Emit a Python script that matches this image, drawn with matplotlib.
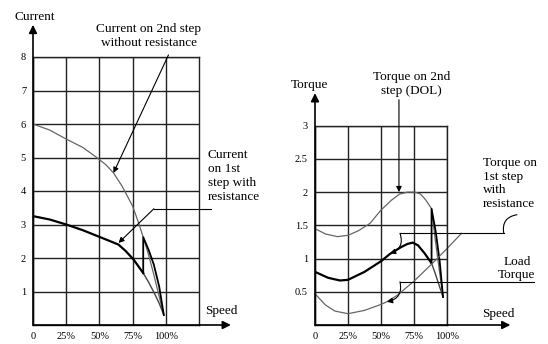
import numpy as np
import matplotlib.pyplot as plt

# ---- left panel: current vs speed ----
ticks_pct = [0, 25, 50, 75, 100]
tick_lbl = ['0', '25%', '50%', '75%', '100%']

cur2_x = [0, 12.5, 25, 37.5, 48, 55, 60.6, 67, 75, 79.5, 83, 87, 91, 95, 98.5]
cur2_y = [6.0, 5.82, 5.55, 5.3, 5.0, 4.78, 4.54, 4.15, 3.55, 3.05, 2.62, 2.1, 1.5, 0.85, 0.3]
cur1_x = [0, 12.5, 25, 37.5, 50.7, 57, 64.4, 70, 75.8, 83]
cur1_y = [3.25, 3.15, 3.0, 2.83, 2.62, 2.52, 2.4, 2.2, 1.95, 1.55]
cur1_tail_x = [83, 87, 91, 95, 98.5]
cur1_tail_y = [1.55, 1.28, 0.98, 0.65, 0.3]
cur_jump_x = [83, 83, 87, 91, 95, 98.5]
cur_jump_y = [1.55, 2.62, 2.25, 1.8, 1.15, 0.3]

# ---- right panel: torque vs speed ----
dol_x = [0, 8, 17, 25, 33, 41.7, 50, 58, 64, 70, 75.8, 80, 84, 88.3, 91, 94, 97]
dol_y = [1.45, 1.37, 1.33, 1.35, 1.42, 1.53, 1.73, 1.88, 1.97, 2.0, 2.0, 1.97, 1.88, 1.75, 1.3, 0.85, 0.42]
tq1_x = [0, 10, 19, 25, 37.5, 50, 56.8, 65, 70, 74, 78, 83, 88.3]
tq1_y = [0.80, 0.71, 0.67, 0.68, 0.8, 0.96, 1.07, 1.17, 1.22, 1.24, 1.2, 1.08, 0.93]
tq1_tail_x = [88.3, 91, 94, 97]
tq1_tail_y = [0.93, 0.78, 0.6, 0.42]
tq_jump_x = [88.3, 88.3, 91.5, 94.5, 97]
tq_jump_y = [0.93, 1.75, 1.4, 0.95, 0.42]
load_x = [0, 8, 15, 25, 37.5, 50, 54.5, 62.5, 75, 87.5, 100, 111]
load_y = [0.47, 0.3, 0.21, 0.17, 0.22, 0.31, 0.35, 0.45, 0.66, 0.9, 1.15, 1.38]

plt.rcParams['font.family'] = ['Liberation Serif', 'DejaVu Serif']
fig = plt.figure(figsize=(5.48, 3.44), dpi=100)

thin = dict(color='#666666', lw=0.9)
thick = dict(color='black', lw=1.6)
arr = dict(arrowstyle='-|>', color='black', lw=0.8, mutation_scale=8, shrinkA=0, shrinkB=0)
axarr = dict(arrowstyle='-|>', color='black', lw=1.2, mutation_scale=12, shrinkA=0, shrinkB=0)

def setup(ax, xmax, ymax, yt, ytl, ytop, xend):
    ax.set_xlim(0, xmax); ax.set_ylim(0, ymax)
    ax.set_xticks(ticks_pct); ax.set_xticklabels(tick_lbl)
    ax.set_yticks(yt); ax.set_yticklabels(ytl)
    ax.tick_params(length=0, pad=5, labelsize=7.5)
    ax.grid(True, color='#222222', lw=1.0)
    for s in ax.spines.values():
        s.set_color('#222222'); s.set_linewidth(1.0)
    ax.annotate('', xy=(0, ytop), xytext=(0, 0), arrowprops=axarr, annotation_clip=False)
    ax.annotate('', xy=(xend, 0), xytext=(0, 0), arrowprops=axarr, annotation_clip=False)

ax1 = fig.add_axes([33/548, 1-325/344, 166/548, 268/344])
setup(ax1, 125, 8, range(1, 9), [str(i) for i in range(1, 9)], 8.96, 149)
ax1.plot(cur2_x, cur2_y, **thin)
ax1.plot(cur1_tail_x, cur1_tail_y, color='#444444', lw=1.0)
ax1.plot(cur1_x, cur1_y, **thick)
ax1.plot(cur_jump_x, cur_jump_y, color='black', lw=1.3)
ax1.text(1.5, 9.2, 'Current', fontsize=9.5, ha='center', va='center')
ax1.text(142, 0.42, 'Speed', fontsize=9.5, ha='center', va='center')
ax1.text(87, 8.63, 'Current on 2nd step\nwithout resistance', fontsize=9.5,
         ha='center', va='center', linespacing=1.15)
ax1.annotate('', xy=(60.6, 4.54), xytext=(102, 8.06), arrowprops=arr, annotation_clip=False)
ax1.text(131.5, 4.45, 'Current\non 1st\nstep with\nresistance', fontsize=9.5,
         ha='left', va='center', linespacing=1.2)
ax1.plot([134, 91], [3.47, 3.47], color='black', lw=0.8, clip_on=False)
ax1.annotate('', xy=(64.4, 2.45), xytext=(91, 3.47), arrowprops=arr, annotation_clip=False)

ax2 = fig.add_axes([315/548, 1-325/344, 132/548, 199.3/344])
setup(ax2, 100, 3, [0.5, 1, 1.5, 2, 2.5, 3], ['0.5', '1', '1.5', '2', '2.5', '3'], 3.49, 148)
ax2.plot(dol_x, dol_y, **thin)
ax2.plot(tq1_tail_x, tq1_tail_y, color='#444444', lw=1.0)
ax2.plot(tq1_x, tq1_y, **thick)
ax2.plot(tq_jump_x, tq_jump_y, color='black', lw=1.3)
ax2.plot(load_x, load_y, clip_on=False, **thin)
ax2.text(-3.8, 3.61, 'Torque', fontsize=9.5, ha='center', va='center')
ax2.text(139, 0.17, 'Speed', fontsize=9.5, ha='center', va='center')
ax2.text(73.2, 3.63, 'Torque on 2nd\nstep (DOL)', fontsize=9.5, ha='center', va='center',
         linespacing=1.15)
ax2.annotate('', xy=(63.6, 2.0), xytext=(63.6, 3.39), arrowprops=arr, annotation_clip=False)
ax2.text(127, 2.13, 'Torque on\n1st step\nwith\nresistance', fontsize=9.5,
         ha='left', va='center', linespacing=1.2)
ax2.annotate('', xy=(143, 1.38), xytext=(153, 1.66),
             arrowprops=dict(arrowstyle='-', color='black', lw=0.8, shrinkA=0, shrinkB=0,
                             connectionstyle='arc3,rad=0.5'), annotation_clip=False)
ax2.plot([143, 64.4], [1.38, 1.38], color='black', lw=0.8, clip_on=False)
ax2.annotate('', xy=(56.8, 1.08), xytext=(64.4, 1.38),
             arrowprops=dict(arr, connectionstyle='arc3,rad=-0.5'), annotation_clip=False)
ax2.text(153, 0.85, 'Load\nTorque', fontsize=9.5, ha='center', va='center', linespacing=1.1)
ax2.plot([166, 64.4], [0.65, 0.65], color='black', lw=0.8, clip_on=False)
ax2.annotate('', xy=(54.5, 0.35), xytext=(64.4, 0.65),
             arrowprops=dict(arr, connectionstyle='arc3,rad=-0.5'), annotation_clip=False)

plt.savefig('out.png', dpi=100)
